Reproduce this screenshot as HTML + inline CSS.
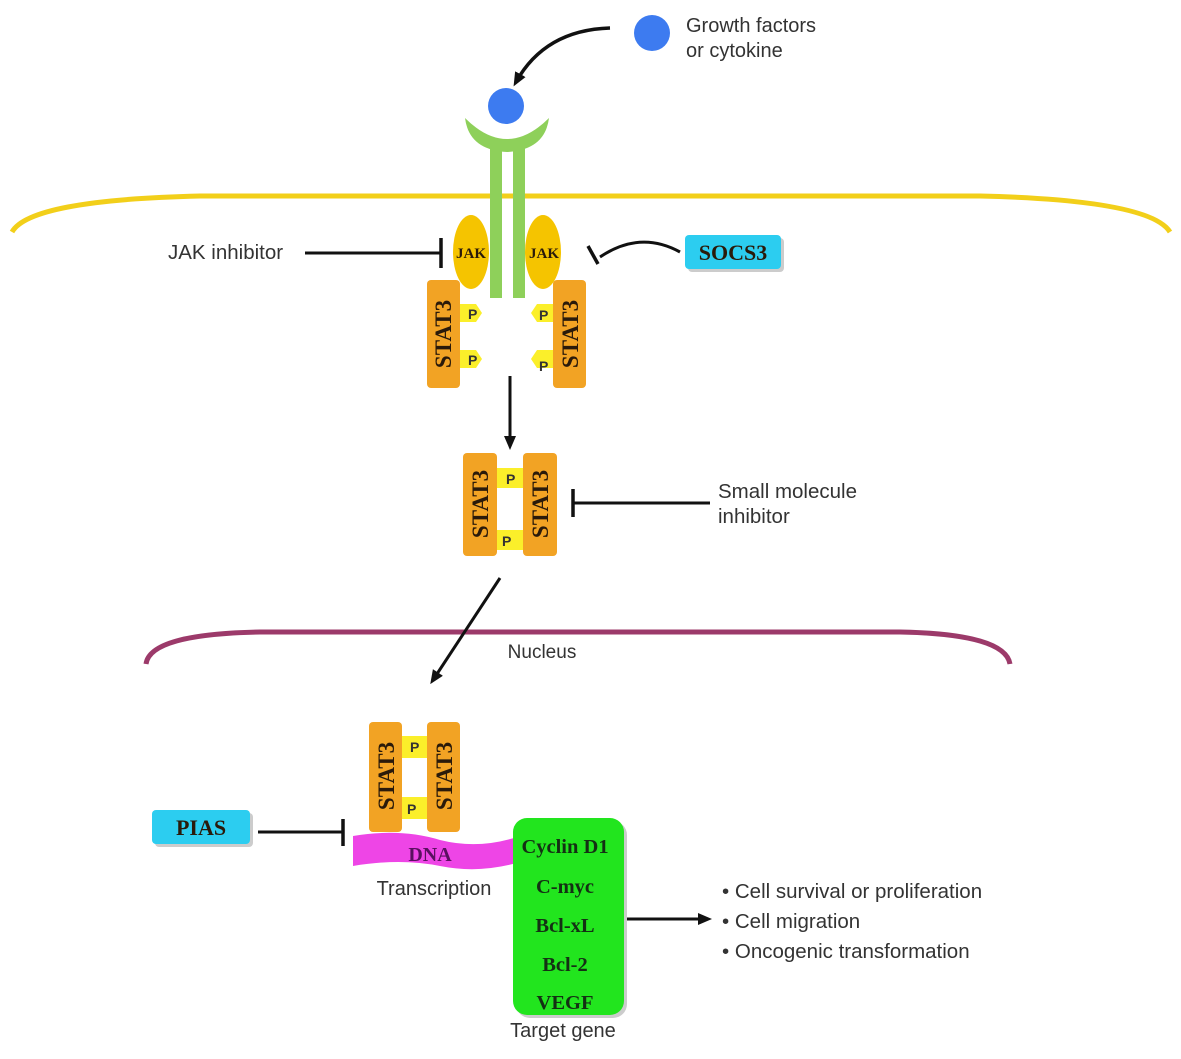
<!DOCTYPE html>
<html><head><meta charset="utf-8"><style>
html,body{margin:0;padding:0;background:#fff;}
svg{display:block;}
.s{font-family:"Liberation Sans",sans-serif;fill:#333;}
.b{font-family:"Liberation Serif",serif;font-weight:bold;fill:#2a1a0a;}
</style></head><body>
<svg width="1181" height="1059" viewBox="0 0 1181 1059" xmlns="http://www.w3.org/2000/svg">
<defs>
<marker id="ah" markerWidth="14" markerHeight="14" refX="9" refY="7" orient="auto" markerUnits="userSpaceOnUse" viewBox="0 0 14 14">
<path d="M0,1 L14,7 L0,13 z" fill="#111"/></marker>
</defs>
<!-- membrane -->
<path d="M12,232 Q30,200 200,196 L980,196 Q1150,200 1170,232" fill="none" stroke="#F2CF1A" stroke-width="5"/>
<!-- nucleus -->
<path d="M146,664 Q150,634 260,632 L900,632 Q1005,634 1010,664" fill="none" stroke="#9C3A6A" stroke-width="5"/>
<text class="s" x="542" y="658" font-size="19" text-anchor="middle">Nucleus</text>

<!-- ligand -->
<circle cx="652" cy="33" r="18" fill="#3D7BF0"/>
<text class="s" x="686" y="32" font-size="20">Growth factors</text>
<text class="s" x="686" y="57" font-size="20">or cytokine</text>
<path d="M610,28 Q545,30 516,82" fill="none" stroke="#111" stroke-width="3.5" marker-end="url(#ah)"/>
<circle cx="506" cy="106" r="18" fill="#3D7BF0"/>

<!-- receptor -->
<path d="M465,118 Q507,160 549,118 Q545,150 507,152 Q469,150 465,118 z" fill="#8ED05A"/>
<rect x="490" y="140" width="12" height="158" fill="#8ED05A"/>
<rect x="513" y="140" width="12" height="158" fill="#8ED05A"/>

<!-- JAK -->
<ellipse cx="471" cy="252" rx="18" ry="37" fill="#F5C400"/>
<ellipse cx="543" cy="252" rx="18" ry="37" fill="#F5C400"/>
<text class="b" x="471" y="258" font-size="15" text-anchor="middle">JAK</text>
<text class="b" x="544" y="258" font-size="15" text-anchor="middle">JAK</text>

<!-- JAK inhibitor -->
<text class="s" x="168" y="259" font-size="20.5">JAK inhibitor</text>
<line x1="305" y1="253" x2="440" y2="253" stroke="#111" stroke-width="3"/>
<line x1="441" y1="238" x2="441" y2="268" stroke="#111" stroke-width="3.5"/>

<!-- SOCS3 -->
<rect x="688" y="238" width="96" height="34" rx="4" fill="#999" opacity="0.5"/>
<rect x="685" y="235" width="96" height="34" rx="4" fill="#2CCDF0"/>
<text class="b" x="733" y="260" font-size="22" text-anchor="middle">SOCS3</text>
<path d="M680,252 Q640,230 600,257" fill="none" stroke="#111" stroke-width="3"/>
<line x1="588" y1="246" x2="598" y2="264" stroke="#111" stroke-width="3.5"/>

<!-- upper STAT3 -->
<rect x="427" y="280" width="33" height="108" rx="4" fill="#F2A324"/>
<rect x="553" y="280" width="33" height="108" rx="4" fill="#F2A324"/>
<path d="M460,304 h16 l6,9 l-6,9 h-16 z" fill="#FBEF2A"/>
<path d="M460,350 h16 l6,9 l-6,9 h-16 z" fill="#FBEF2A"/>
<path d="M553,304 h-16 l-6,9 l6,9 h16 z" fill="#FBEF2A"/>
<path d="M553,350 h-16 l-6,9 l6,9 h16 z" fill="#FBEF2A"/>
<text class="s" x="468" y="319" font-size="14" font-weight="bold">P</text>
<text class="s" x="468" y="365" font-size="14" font-weight="bold">P</text>
<text class="s" x="539" y="320" font-size="14" font-weight="bold">P</text>
<text class="s" x="539" y="371" font-size="14" font-weight="bold">P</text>
<text class="b" font-size="23" text-anchor="middle" transform="translate(451,334) rotate(-90)">STAT3</text>
<text class="b" font-size="23" text-anchor="middle" transform="translate(578,334) rotate(-90)">STAT3</text>
<line x1="510" y1="376" x2="510" y2="445" stroke="#111" stroke-width="3" marker-end="url(#ah)"/>

<!-- middle STAT3 -->
<rect x="463" y="453" width="34" height="103" rx="4" fill="#F2A324"/>
<rect x="523" y="453" width="34" height="103" rx="4" fill="#F2A324"/>
<path d="M497,468 h26 v20 h-26 z" fill="#FBEF2A"/>
<path d="M497,530 h26 v20 h-26 z" fill="#FBEF2A"/>
<text class="s" x="506" y="484" font-size="14" font-weight="bold">P</text>
<text class="s" x="502" y="546" font-size="14" font-weight="bold">P</text>
<text class="b" font-size="23" text-anchor="middle" transform="translate(488,504) rotate(-90)">STAT3</text>
<text class="b" font-size="23" text-anchor="middle" transform="translate(548,504) rotate(-90)">STAT3</text>

<text class="s" x="718" y="498" font-size="20.5">Small molecule</text>
<text class="s" x="718" y="523" font-size="20.5">inhibitor</text>
<line x1="710" y1="503" x2="573" y2="503" stroke="#111" stroke-width="3"/>
<line x1="573" y1="489" x2="573" y2="517" stroke="#111" stroke-width="3.5"/>

<line x1="500" y1="578" x2="433" y2="680" stroke="#111" stroke-width="3" marker-end="url(#ah)"/>

<!-- lower STAT3 -->
<rect x="369" y="722" width="33" height="110" rx="4" fill="#F2A324"/>
<rect x="427" y="722" width="33" height="110" rx="4" fill="#F2A324"/>
<path d="M402,736 h25 v22 h-25 z" fill="#FBEF2A"/>
<path d="M402,797 h25 v22 h-25 z" fill="#FBEF2A"/>
<text class="s" x="410" y="752" font-size="14" font-weight="bold">P</text>
<text class="s" x="407" y="814" font-size="14" font-weight="bold">P</text>
<text class="b" font-size="23" text-anchor="middle" transform="translate(394,776) rotate(-90)">STAT3</text>
<text class="b" font-size="23" text-anchor="middle" transform="translate(452,776) rotate(-90)">STAT3</text>

<!-- DNA -->
<path d="M353,836 Q400,828 440,840 Q480,850 520,836 L520,862 Q480,874 440,866 Q400,858 353,866 z" fill="#EE45E6"/>
<text class="b" x="430" y="861" font-size="20" text-anchor="middle" style="fill:#5a1060">DNA</text>
<text class="s" x="434" y="895" font-size="20" text-anchor="middle">Transcription</text>

<!-- PIAS -->
<rect x="155" y="813" width="98" height="34" rx="4" fill="#999" opacity="0.5"/>
<rect x="152" y="810" width="98" height="34" rx="4" fill="#2CCDF0"/>
<text class="b" x="201" y="835" font-size="22" text-anchor="middle">PIAS</text>
<line x1="258" y1="832" x2="342" y2="832" stroke="#111" stroke-width="3"/>
<line x1="343" y1="819" x2="343" y2="846" stroke="#111" stroke-width="3.5"/>

<!-- genes -->
<rect x="516" y="821" width="111" height="197" rx="14" fill="#999" opacity="0.5"/>
<rect x="513" y="818" width="111" height="197" rx="14" fill="#22E51E"/>
<g font-size="20.5" text-anchor="middle">
<text x="565" y="853" class="b" style="fill:#143014">Cyclin D1</text>
<text x="565" y="893" class="b" style="fill:#143014">C-myc</text>
<text x="565" y="932" class="b" style="fill:#143014">Bcl-xL</text>
<text x="565" y="971" class="b" style="fill:#143014">Bcl-2</text>
<text x="565" y="1009" class="b" style="fill:#143014">VEGF</text>
</g>
<text class="s" x="563" y="1037" font-size="20" text-anchor="middle">Target gene</text>

<line x1="627" y1="919" x2="707" y2="919" stroke="#111" stroke-width="3" marker-end="url(#ah)"/>
<g class="s" font-size="20.5">
<text x="722" y="898">• Cell survival or proliferation</text>
<text x="722" y="928">• Cell migration</text>
<text x="722" y="958">• Oncogenic transformation</text>
</g>
</svg>
</body></html>
